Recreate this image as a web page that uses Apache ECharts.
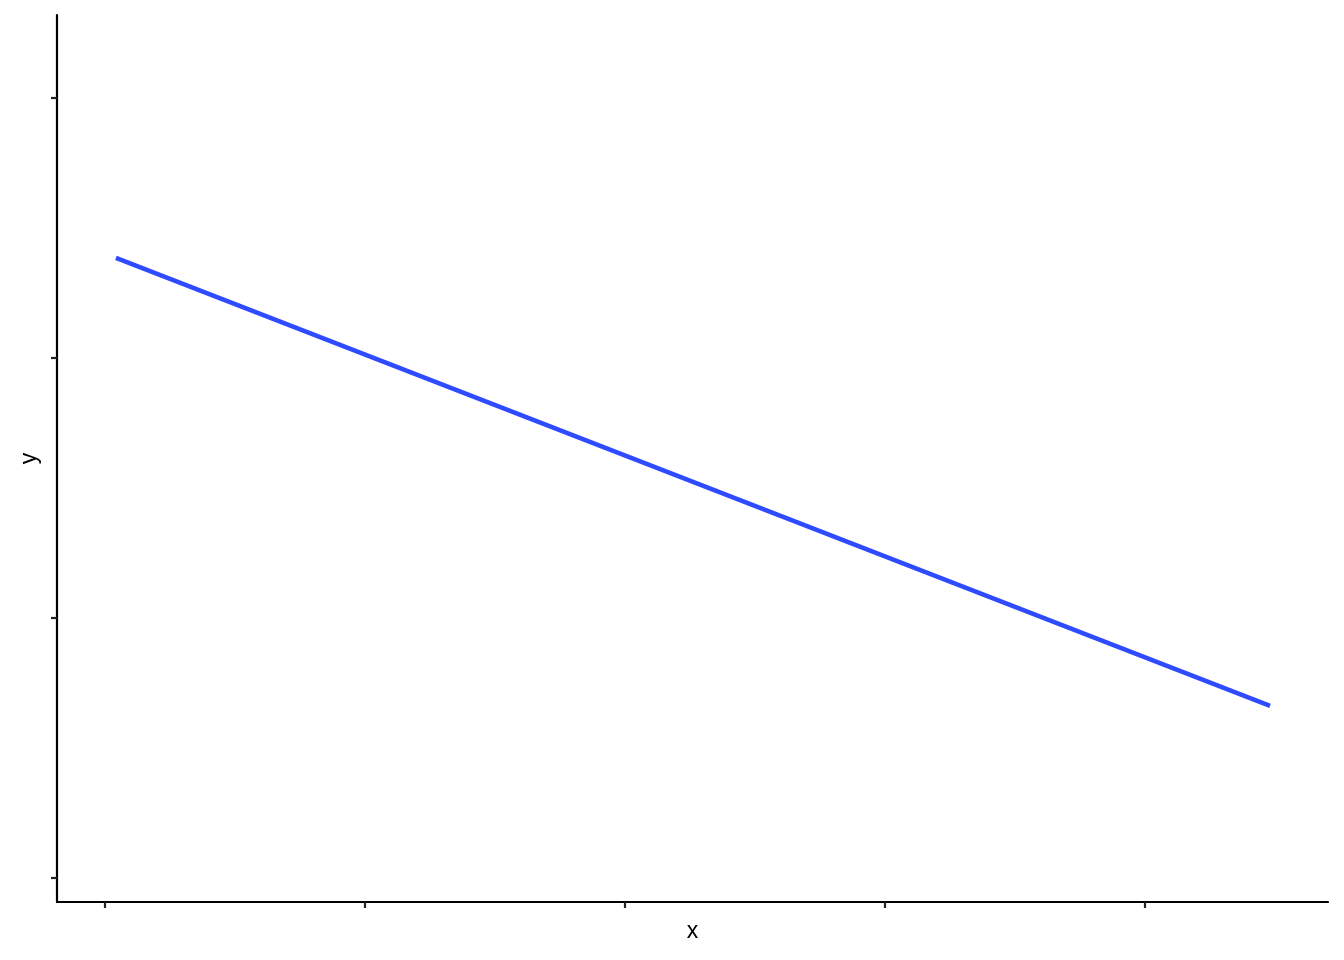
<!DOCTYPE html>
<html>
<head>
<meta charset="utf-8">
<script src="https://cdn.jsdelivr.net/npm/echarts@6/dist/echarts.min.js"></script>
<style>
html,body{margin:0;padding:0;background:#fff;}
#chart{width:1344px;height:960px;}
</style>
</head>
<body>
<div id="chart"></div>
<script>
// Data
const lineX = [0.042, 4.481];
const lineY = [2.385, 0.662];
const xTicks = [0, 1, 2, 3, 4];
const yTicks = [0, 1, 2, 3];
const xRange = [-0.1846, 4.7038];
const yRange = [-0.0923, 3.319];

const chart = echarts.init(document.getElementById('chart'), null, {renderer: 'canvas'});
chart.setOption({
  backgroundColor: '#ffffff',
  animation: false,
  grid: {left: 57, top: 15, width: 1271, height: 887, containLabel: false},
  xAxis: {
    type: 'value', min: xRange[0], max: xRange[1],
    name: 'x', nameLocation: 'middle', nameGap: 18,
    nameTextStyle: {fontFamily: 'Liberation Sans', fontSize: 23, color: '#000'},
    axisLine: {show: true, onZero: false, lineStyle: {color: '#000', width: 2.2}},
    axisTick: {show: true, length: 6, customValues: xTicks, lineStyle: {color: '#222', width: 2.2}},
    axisLabel: {show: false},
    splitLine: {show: false}
  },
  yAxis: {
    type: 'value', min: yRange[0], max: yRange[1],
    name: 'y', nameLocation: 'middle', nameGap: 16,
    nameTextStyle: {fontFamily: 'Liberation Sans', fontSize: 23, color: '#000'},
    axisLine: {show: true, onZero: false, lineStyle: {color: '#000', width: 2.2}},
    axisTick: {show: true, length: 6, customValues: yTicks, lineStyle: {color: '#222', width: 2.2}},
    axisLabel: {show: false},
    splitLine: {show: false}
  },
  series: [{
    type: 'line',
    data: lineX.map((x, i) => [x, lineY[i]]),
    showSymbol: false,
    symbol: 'none',
    lineStyle: {color: '#2F4BFF', width: 4.4, cap: 'butt'}
  }]
});
</script>
</body>
</html>
